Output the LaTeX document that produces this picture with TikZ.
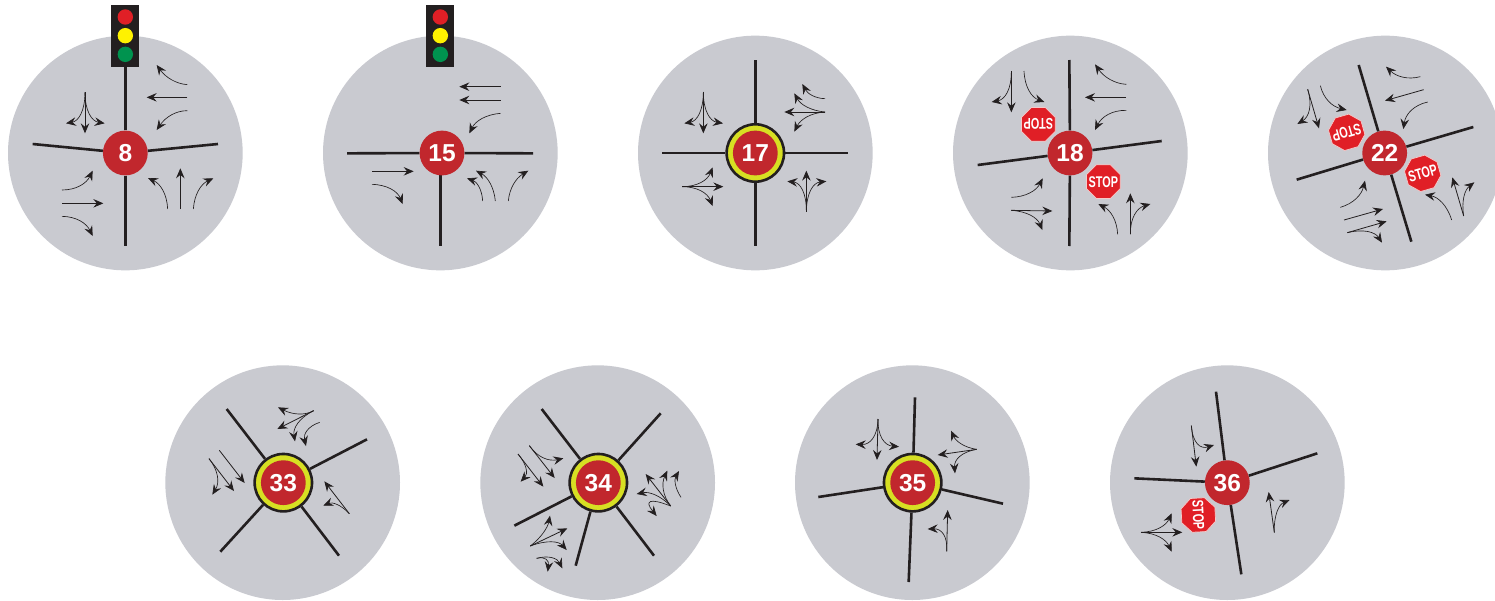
\documentclass[tikz,border=0pt]{standalone}
\usepackage{fontspec}
\setmainfont{Liberation Sans}
\usetikzlibrary{arrows.meta,shapes.geometric,calc}
\definecolor{discgrey}{HTML}{C9CAD0}
\definecolor{inkdark}{HTML}{231F20}
\definecolor{numred}{HTML}{C1272D}
\definecolor{ringyel}{HTML}{D7DF23}
\definecolor{sred}{HTML}{E01F26}
\definecolor{syel}{HTML}{FFF200}
\definecolor{sgreen}{HTML}{00934F}
\definecolor{sedge}{HTML}{F6C9C9}
\tikzset{
  zm/.style={x=0.33333pt,y=-0.33333pt},
  disc/.style={fill=discgrey},
  road/.style={draw=inkdark,line width=2.6pt},
  trfc/.style={draw=inkdark,line width=0.65pt,-{Stealth[length=10pt,width=8.5pt,inset=3.5pt]}},
  trfs/.style={draw=inkdark,line width=0.8pt,-{Stealth[length=10pt,width=8.5pt,inset=3.5pt]}},
  num/.style={circle,fill=numred,minimum size=44.8pt,inner sep=0pt,text=white,font=\fontsize{24.5}{25}\selectfont\bfseries},
  ring/.style={circle,draw=inkdark,fill=ringyel,line width=2.6pt,minimum size=57.4pt,inner sep=0pt},
  stopsign/.style={regular polygon,regular polygon sides=8,minimum size=36.6pt,inner sep=0pt,fill=sred,draw=sedge,line width=0.7pt},
  stoptxt/.style={inner sep=0pt,text=white,font=\fontsize{15.5}{16}\selectfont\bfseries},
  lamp/.style={circle,minimum size=15.4pt,inner sep=0pt},
}
\newcommand\trcurve[3]{\draw[trfc] (#1) .. controls ($(#1)!0.667!(#2)$) and ($(#3)!0.667!(#2)$) .. (#3);}
\newcommand\trline[2]{\draw[trfs] (#1) -- (#2);}
\newcommand\stopat[3]{%
  \node[stopsign,rotate=#3] (#1) at (#2) {};
  \node[stoptxt,rotate=#3] (#1t) at (#2) {\scalebox{0.7}[1]{STOP}};
}
\newcommand\tlight[1]{%
  \fill[inkdark] (333,15) rectangle (417,200);
  \node[lamp,fill=sred] (#1r) at (376,51) {};
  \node[lamp,fill=syel] (#1y) at (376,107) {};
  \node[lamp,fill=sgreen] (#1g) at (376,163) {};
}
\begin{document}
\begin{tikzpicture}
\path[use as bounding box] (0pt,0pt) rectangle (1495pt,-600pt);
\clip (0pt,0pt) rectangle (1495pt,-600pt);
\fill[white] (0pt,0pt) rectangle (1495pt,-600pt);

% 8
\begin{scope}[shift={(0pt,0pt)},zm]
\fill[disc] (376,459) circle [radius=352];
\node[num] (c8) at (376,459) {8};
\draw[road] (c8) -- (376,200);
\draw[road] (c8) -- (98,432);
\draw[road] (c8) -- (654,432);
\draw[road] (c8) -- (376,738);
\tlight{a}
\trcurve{562,254}{510,250}{470,195}
\trline{562,292}{440,292}
\trcurve{562,332}{510,332}{470,390}
\trline{255,277}{255,400}
\trcurve{255,277}{255,360}{198,370}
\trcurve{255,277}{255,360}{314,370}
\trcurve{186,570}{250,570}{278,512}
\trline{186,610}{310,610}
\trcurve{186,649}{250,650}{278,708}
\trcurve{503,627}{500,560}{444,534}
\trline{541,627}{541,505}
\trcurve{580,627}{585,560}{640,535}
\end{scope}

% 15
\begin{scope}[shift={(315pt,0pt)},zm]
\fill[disc] (376,459) circle [radius=352];
\coordinate (j15) at (376,480);
\draw[road] (j15) -- (376,738);
\node[num] (c15) at (381,459) {15};
\draw[road] (c15) -- (96,460);
\draw[road] (c15) -- (654,460);
\tlight{b}
\trline{557,260}{433,260}
\trline{557,300}{433,300}
\trcurve{557,340}{490,345}{463,400}
\trline{171,514}{296,514}
\trcurve{171,553}{240,555}{263,612}
\trcurve{503,603}{500,550}{456,535}
\trcurve{541,603}{535,540}{483,512}
\trcurve{580,603}{585,545}{640,512}
\end{scope}

% 17
\begin{scope}[shift={(630pt,-30pt)},zm]
\fill[disc] (376,369) circle [radius=352];
\node[ring] (r17) at (376,369) {};
\node[num] (c17) at (376,369) {17};
\draw[road] (r17) -- (376,90);
\draw[road] (r17) -- (96,369);
\draw[road] (r17) -- (654,369);
\draw[road] (r17) -- (376,648);
\trline{220,186}{220,310}
\trcurve{220,186}{220,270}{163,280}
\trcurve{220,186}{220,270}{279,280}
\trcurve{585,206}{540,205}{517,162}
\trline{585,246}{463,246}
\trcurve{585,246}{520,240}{493,190}
\trcurve{585,246}{520,250}{493,305}
\trline{156,470}{280,470}
\trcurve{156,470}{225,470}{248,412}
\trcurve{156,470}{225,470}{248,528}
\trline{529,545}{529,422}
\trcurve{529,545}{530,460}{472,454}
\trcurve{529,545}{530,460}{589,454}
\end{scope}

% 18
\begin{scope}[shift={(945pt,-30pt)},zm]
\fill[disc] (376,369) circle [radius=352];
\node[num] (c18) at (375,369) {18};
\draw[road] (c18) -- (373,90);
\draw[road] (c18) -- (373,648);
\draw[road] (c18) -- (98,405);
\draw[road] (c18) -- (650,333);
\stopat{s18a}{280,283}{180}
\stopat{s18b}{475,455}{0}
\trline{199,123}{199,247}
\trcurve{199,123}{200,205}{140,216}
\trcurve{237,123}{240,195}{298,216}
\trcurve{544,163}{490,160}{450,103}
\trline{543,202}{420,202}
\trcurve{544,241}{480,240}{450,300}
\trcurve{199,502}{265,500}{293,445}
\trline{198,541}{322,543}
\trcurve{198,541}{270,545}{292,600}
\trcurve{518,613}{515,550}{460,522}
\trline{556,613}{556,490}
\trcurve{556,613}{555,540}{616,522}
\end{scope}

% 22
\begin{scope}[shift={(1260pt,-30pt)},zm]
\fill[disc] (376,369) circle [radius=352];
\node[num] (c22) at (374,369) {22};
\draw[road] (c22) -- (296,105);
\draw[road] (c22) -- (454,635);
\draw[road] (c22) -- (110,449);
\draw[road] (c22) -- (640,291);
\stopat{s22a}{260,307}{196}
\stopat{s22b}{488,430}{16}
\trline{143,178}{177,295}
\trcurve{143,178}{165,250}{112,282}
\trcurve{181,167}{195,225}{260,240}
\trcurve{481,140}{425,155}{378,110}
\trline{491,179}{375,212}
\trcurve{503,216}{440,230}{430,297}
\trcurve{241,532}{300,515}{315,452}
\trline{252,570}{369,537}
\trline{262,608}{380,574}
\trcurve{262,608}{335,590}{366,638}
\trcurve{575,570}{555,505}{495,494}
\trline{611,558}{577,442}
\trcurve{611,558}{600,490}{643,457}
\end{scope}

% 33
\begin{scope}[shift={(160pt,-360pt)},zm]
\fill[disc] (368,368) circle [radius=352];
\node[ring] (r33) at (370,368) {};
\node[num] (c33) at (370,368) {33};
\draw[road] (r33) -- (200,147);
\draw[road] (r33) -- (621,238);
\draw[road] (r33) -- (181,575);
\draw[road] (r33) -- (537,587);
\trcurve{461,152}{420,175}{354,142}
\trline{461,152}{352,207}
\trcurve{461,152}{395,185}{405,244}
\trcurve{479,187}{425,205}{438,258}
\trline{147,296}{222,393}
\trcurve{147,296}{190,350}{157,404}
\trline{178,271}{254,369}
\trline{568,461}{493,364}
\trcurve{568,461}{530,420}{490,437}
\end{scope}

% 34
\begin{scope}[shift={(475pt,-360pt)},zm]
\fill[disc] (368,368) circle [radius=352];
\node[ring] (r34) at (370,368) {};
\node[num] (c34) at (370,368) {34};
\draw[road] (r34) -- (200,147);
\draw[road] (r34) -- (557,160);
\draw[road] (r34) -- (118,497);
\draw[road] (r34) -- (302,617);
\draw[road] (r34) -- (537,587);
\trline{129,282}{205,380}
\trcurve{129,282}{170,330}{137,365}
\trline{163,257}{239,354}
\trcurve{163,257}{200,310}{265,295}
\trline{587,438}{512,342}
\trcurve{587,438}{550,390}{577,332}
\trcurve{587,438}{540,390}{485,402}
\trcurve{587,438}{490,400}{545,468}
\trcurve{618,412}{590,370}{612,333}
\trline{166,558}{277,505}
\trcurve{166,558}{215,520}{225,467}
\trcurve{166,558}{240,530}{275,570}
\trcurve{185,595}{240,580}{262,625}
\trcurve{185,595}{225,585}{218,635}
\end{scope}

% 35
\begin{scope}[shift={(790pt,-360pt)},zm]
\fill[disc] (367,368) circle [radius=352];
\node[ring] (r35) at (368,368) {};
\node[num] (c35) at (368,368) {35};
\draw[road] (r35) -- (375,112);
\draw[road] (r35) -- (85,411);
\draw[road] (r35) -- (639,431);
\draw[road] (r35) -- (356,666);
\trline{264,177}{261,300}
\trcurve{264,177}{262,255}{197,253}
\trcurve{264,177}{262,255}{327,260}
\trline{560,268}{443,285}
\trcurve{560,268}{505,260}{483,212}
\trcurve{560,268}{490,280}{495,340}
\trline{470,574}{473,450}
\trcurve{470,574}{475,505}{413,507}
\end{scope}

% 36
\begin{scope}[shift={(1105pt,-360pt)},zm]
\fill[disc] (367,368) circle [radius=352];
\node[num] (c36) at (367,368) {36};
\draw[road] (c36) -- (333,95);
\draw[road] (c36) -- (409,643);
\draw[road] (c36) -- (637,280);
\draw[road] (c36) -- (88,355);
\stopat{s36}{280,465}{-87}
\trline{259,197}{274,320}
\trcurve{259,197}{265,275}{327,255}
\trline{108,517}{232,517}
\trcurve{108,517}{175,515}{200,460}
\trcurve{108,517}{175,520}{200,575}
\trline{508,518}{491,396}
\trcurve{508,518}{505,440}{554,420}
\end{scope}
\end{tikzpicture}
\end{document}
